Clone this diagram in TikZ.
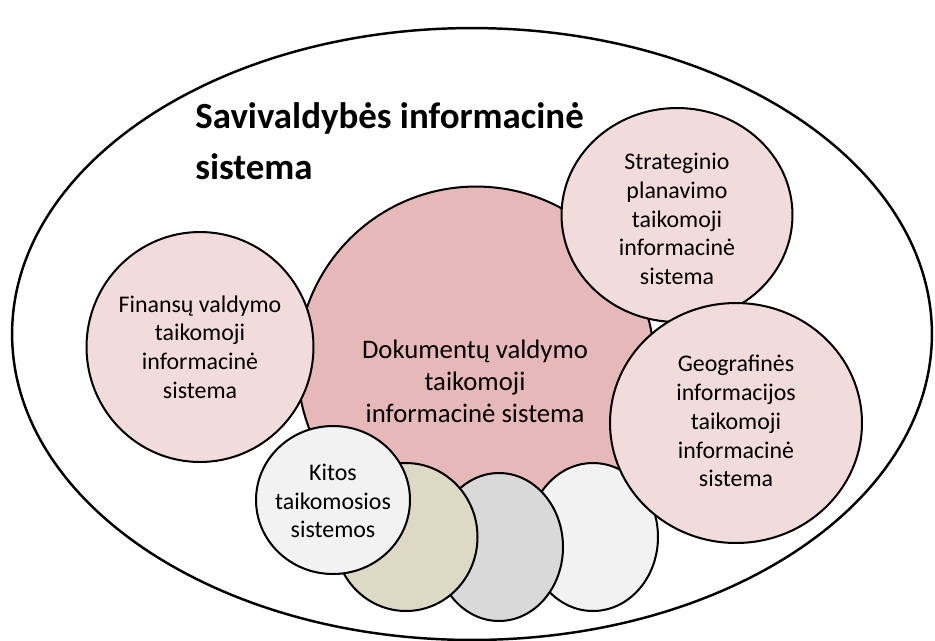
\documentclass[tikz,border=0pt]{standalone}
\usepackage{fontspec}
\setmainfont{Carlito}
\usepackage{tikz}
\usetikzlibrary{shapes.geometric}

\begin{document}
\begin{tikzpicture}[
    x=0.02cm,
    y=-0.02cm,
    outerset/.style={
        draw,
        ellipse,
        line width=1.4pt,
        inner sep=0pt
    },
    sysbox/.style={
        draw,
        ellipse,
        line width=1.15pt,
        inner sep=0pt
    },
    systext/.style={
        align=center,
        inner sep=0pt,
        font=\fontsize{13.6}{16.4}\selectfont
    },
    maintext/.style={
        align=center,
        inner sep=0pt,
        font=\fontsize{15.2}{18.2}\selectfont
    },
    settitle/.style={
        align=left,
        inner sep=0pt,
        font=\fontsize{21}{29}\selectfont\bfseries
    }
]
\definecolor{docfill}{HTML}{E6B9B8}
\definecolor{subfill}{HTML}{F2DCDB}
\definecolor{lightfill}{HTML}{F2F2F2}
\definecolor{beigefill}{HTML}{DDD9C4}
\definecolor{greyfill}{HTML}{D9D9D9}

\useasboundingbox (0,0) rectangle (935,640);

% ============================================================
% Outer set
% ============================================================
\node[outerset, minimum width=18.4cm, minimum height=12.24cm]
    (sav-set) at (472,334) {};

\node[settitle, anchor=north west] (sav-title) at (195,102)
    {Savivaldybės informacinė\\sistema};

% ============================================================
% Document management (the large one)
% ============================================================
\node[sysbox, fill=docfill, minimum width=7.14cm, minimum height=7.14cm]
    (dok-sys) at (476,365) {};
\node[maintext] (dok-text) at (475,381)
    {Dokumentų valdymo\\taikomoji\\informacinė sistema};

% ------------------------------------------------------------
% Finance
% ------------------------------------------------------------
\node[sysbox, fill=subfill, minimum width=4.54cm, minimum height=4.6cm]
    (fin-sys) at (200,347) {};
\node[systext] (fin-text) at (fin-sys)
    {Finansų valdymo\\taikomoji\\informacinė\\sistema};

% ------------------------------------------------------------
% Strategic planning
% ------------------------------------------------------------
\node[sysbox, fill=subfill, minimum width=4.62cm, minimum height=4.28cm]
    (str-sys) at (677,215) {};
\node[systext] (str-text) at (677,219)
    {Strateginio\\planavimo\\taikomoji\\informacinė\\sistema};

% ============================================================
% Bottom row of other systems
% ============================================================
\node[sysbox, fill=lightfill, minimum width=2.6cm, minimum height=2.96cm]
    (oth-c) at (593,537) {};

% ------------------------------------------------------------
% Geographic information
% ------------------------------------------------------------
\node[sysbox, fill=subfill, minimum width=5.04cm, minimum height=4.8cm]
    (geo-sys) at (736,423) {};
\node[systext] (geo-text) at (736,421)
    {Geografinės\\informacijos\\taikomoji\\informacinė\\sistema};

\node[sysbox, fill=greyfill, minimum width=2.56cm, minimum height=2.96cm]
    (oth-b) at (499,547) {};
\node[sysbox, fill=beigefill, minimum width=2.86cm, minimum height=2.96cm]
    (oth-a) at (406,537) {};

\node[sysbox, fill=lightfill, minimum width=3.08cm, minimum height=2.96cm]
    (kit-sys) at (333,500) {};
\node[systext] (kit-text) at (333,501)
    {Kitos\\taikomosios\\sistemos};

\end{tikzpicture}
\end{document}
